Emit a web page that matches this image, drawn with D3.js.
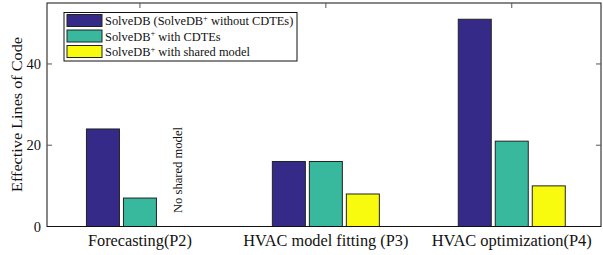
<!DOCTYPE html>
<html>
  <head>
    <meta charset="utf-8" />
    <title>Effective lines of code</title>
    <style>
      body { margin: 0; background: #fff; }
    </style>
  </head>
  <body>
    <svg width="603" height="255"></svg>
    <script src="https://d3js.org/d3.v7.min.js"></script>
    <script>
      // data
      const categories = ["Forecasting(P2)", "HVAC model fitting (P3)", "HVAC optimization(P4)"];
      const solveDB = [24, 16, 51];
      const withCDTEs = [7, 16, 21];
      const sharedModel = [null, 8, 10];
      const yTicks = [0, 20, 40];

      const series = [
        { name: "SolveDB (SolveDB", sup: "+", rest: " without CDTEs)", values: solveDB, color: "#352a87" },
        { name: "SolveDB", sup: "+", rest: " with CDTEs", values: withCDTEs, color: "#38b99e" },
        { name: "SolveDB", sup: "+", rest: " with shared model", values: sharedModel, color: "#f9fb0e" }
      ];

      // widths of the serif labels in the original, so the spread matches
      const catWidths = [104, 165, 160];

      const serif = "'Liberation Serif', 'Times New Roman', 'DejaVu Serif', serif";

      const svg = d3.select("svg")
        .attr("font-family", serif)
        .style("font-family", serif);
      const plotL = 47, plotR = 601, plotT = 3, plotB = 226.5;

      const x = d3.scaleLinear().domain([-0.5, 2.48]).range([plotL, plotR]);
      const y = d3.scaleLinear().domain([0, 55]).range([plotB, plotT]);

      const barW = 33, gap = 4;

      // bars
      series.forEach((s, si) => {
        svg.append("g").selectAll("rect")
          .data(s.values.map((v, i) => ({ v, i })).filter(d => d.v != null))
          .enter().append("rect")
          .attr("x", d => x(d.i) + (si - 1) * (barW + gap) - barW / 2)
          .attr("y", d => y(d.v))
          .attr("width", barW)
          .attr("height", d => y(0) - y(d.v))
          .attr("fill", s.color)
          .attr("stroke", "#222")
          .attr("stroke-width", 1);
      });

      // frame
      svg.append("rect")
        .attr("x", plotL).attr("y", plotT)
        .attr("width", plotR - plotL).attr("height", plotB - plotT)
        .attr("fill", "none").attr("stroke", "#111").attr("stroke-width", 1);

      // y axis, ticks inward on both sides
      const yAxis = svg.append("g");
      yTicks.forEach(t => {
        if (t > 0) {
          yAxis.append("line").attr("x1", plotL).attr("x2", plotL + 5)
            .attr("y1", y(t)).attr("y2", y(t)).attr("stroke", "#555");
          yAxis.append("line").attr("x1", plotR - 5).attr("x2", plotR)
            .attr("y1", y(t)).attr("y2", y(t)).attr("stroke", "#555");
        }
        yAxis.append("text")
          .attr("x", plotL - 6).attr("y", y(t) + 5)
          .attr("text-anchor", "end")
          .attr("fill", "#111")
          .style("font-size", "14.5px")
          .text(t);
      });

      // top ticks at group centres, category labels below
      categories.forEach((c, i) => {
        svg.append("line").attr("x1", x(i)).attr("x2", x(i))
          .attr("y1", plotT).attr("y2", plotT + 5).attr("stroke", "#555");
        svg.append("text")
          .attr("x", x(i)).attr("y", 245.5)
          .attr("text-anchor", "middle")
          .attr("fill", "#111")
          .attr("textLength", catWidths[i])
          .attr("lengthAdjust", "spacingAndGlyphs")
          .style("font-size", "16px")
          .text(c);
      });

      // y label
      svg.append("text")
        .attr("transform", "translate(22,114.5) rotate(-90)")
        .attr("text-anchor", "middle")
        .attr("fill", "#111")
        .attr("textLength", 155)
        .attr("lengthAdjust", "spacingAndGlyphs")
        .style("font-size", "15px")
        .text("Effective Lines of Code");

      // note for missing bar
      svg.append("text")
        .attr("transform", `translate(${x(0) + barW + gap + 5},${y(0) - 13.5}) rotate(-90)`)
        .attr("text-anchor", "start")
        .attr("fill", "#111")
        .attr("textLength", 86)
        .attr("lengthAdjust", "spacingAndGlyphs")
        .style("font-size", "12px")
        .text("No shared model");

      // legend
      const lg = svg.append("g").attr("transform", "translate(64,12.5)");
      lg.append("rect").attr("width", 233).attr("height", 48.5)
        .attr("fill", "#fff").attr("stroke", "#111");
      series.forEach((s, i) => {
        const row = lg.append("g").attr("transform", `translate(3,${2 + i * 15.5})`);
        row.append("rect").attr("width", 35).attr("height", 12)
          .attr("fill", s.color).attr("stroke", "#222");
        const t = row.append("text").attr("x", 38).attr("y", 10.5)
          .attr("fill", "#111")
          .style("font-size", "12.4px");
        t.append("tspan").text(s.name);
        t.append("tspan").attr("dy", -4.5).style("font-size", "8.5px").text(s.sup);
        t.append("tspan").attr("dy", 4.5).text(s.rest);
      });
    </script>
  </body>
</html>
